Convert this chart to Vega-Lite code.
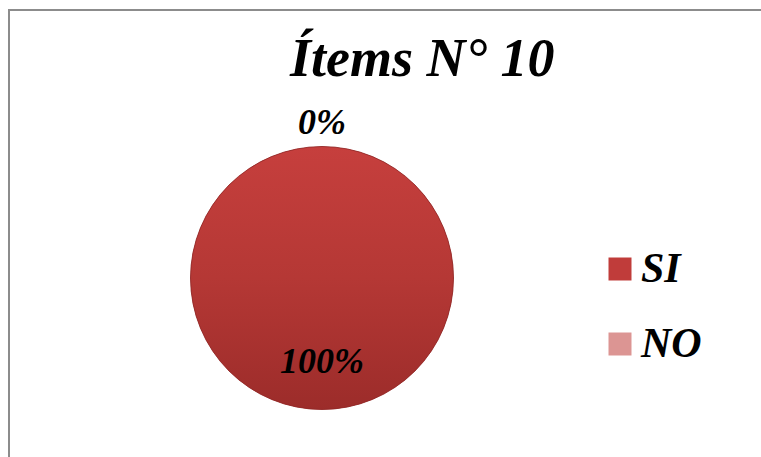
{
  "$schema": "https://vega.github.io/schema/vega-lite/v6.json",
  "autosize": "none",
  "width": 760,
  "height": 460,
  "padding": {"left": 9, "top": 10, "right": 0, "bottom": 0},
  "background": "white",
  "config": {
    "view": {"stroke": "#8C8C8C", "strokeWidth": 2},
    "font": "Liberation Serif"
  },
  "data": {
    "values": [
      {"respuesta": "SI", "valor": 100, "etiqueta": "100%"},
      {"respuesta": "NO", "valor": 0, "etiqueta": "0%"}
    ]
  },
  "layer": [
    {
      "data": {"values": [{"titulo": "Ítems N° 10"}]},
      "mark": {
        "type": "text",
        "align": "left",
        "baseline": "alphabetic",
        "font": "Liberation Serif",
        "fontSize": 54,
        "fontStyle": "italic",
        "fontWeight": "bold",
        "color": "black"
      },
      "encoding": {
        "text": {"field": "titulo"},
        "x": {"value": 281},
        "y": {"value": 66}
      }
    },
    {
      "mark": {"type": "arc", "outerRadius": 131.5},
      "encoding": {
        "theta": {"field": "valor", "type": "quantitative", "stack": true},
        "x": {"value": 313},
        "y": {"value": 268},
        "color": {
          "field": "respuesta",
          "type": "nominal",
          "scale": {"domain": ["SI", "NO"], "range": ["#C03C3A", "#DC9593"]},
          "legend": {
            "title": null,
            "orient": "none",
            "legendX": 590,
            "legendY": 238,
            "padding": 0,
            "symbolType": "square",
            "symbolSize": 529,
            "symbolStrokeWidth": 0,
            "symbolOpacity": 1,
            "labelFont": "Liberation Serif",
            "labelFontSize": 42,
            "labelFontStyle": "italic",
            "labelFontWeight": "bold",
            "labelColor": "black",
            "labelOffset": 0,
            "rowPadding": 33
          }
        }
      }
    },
    {
      "transform": [{"filter": "datum.respuesta === 'SI'"}],
      "mark": {
        "type": "arc",
        "outerRadius": 131.5,
        "fill": {
          "gradient": "linear",
          "x1": 0, "y1": 0, "x2": 0, "y2": 1,
          "stops": [
            {"offset": 0, "color": "#C63F3D"},
            {"offset": 0.5, "color": "#B53835"},
            {"offset": 1, "color": "#9C2C2A"}
          ]
        },
        "stroke": "#8E2624",
        "strokeWidth": 0.8
      },
      "encoding": {
        "theta": {"field": "valor", "type": "quantitative", "stack": true},
        "x": {"value": 313},
        "y": {"value": 268}
      }
    },
    {
      "transform": [{"filter": "datum.respuesta === 'SI'"}],
      "mark": {
        "type": "text",
        "radius": 84,
        "font": "Liberation Serif",
        "fontSize": 36,
        "fontStyle": "italic",
        "fontWeight": "bold",
        "baseline": "middle",
        "align": "center",
        "color": "black"
      },
      "encoding": {
        "theta": {"field": "valor", "type": "quantitative", "stack": true},
        "x": {"value": 313},
        "y": {"value": 268},
        "text": {"field": "etiqueta"}
      }
    },
    {
      "transform": [{"filter": "datum.respuesta === 'NO'"}],
      "mark": {
        "type": "text",
        "radius": 155,
        "font": "Liberation Serif",
        "fontSize": 36,
        "fontStyle": "italic",
        "fontWeight": "bold",
        "baseline": "middle",
        "align": "center",
        "color": "black"
      },
      "encoding": {
        "theta": {"field": "valor", "type": "quantitative", "stack": true},
        "x": {"value": 313},
        "y": {"value": 268},
        "text": {"field": "etiqueta"}
      }
    }
  ]
}
